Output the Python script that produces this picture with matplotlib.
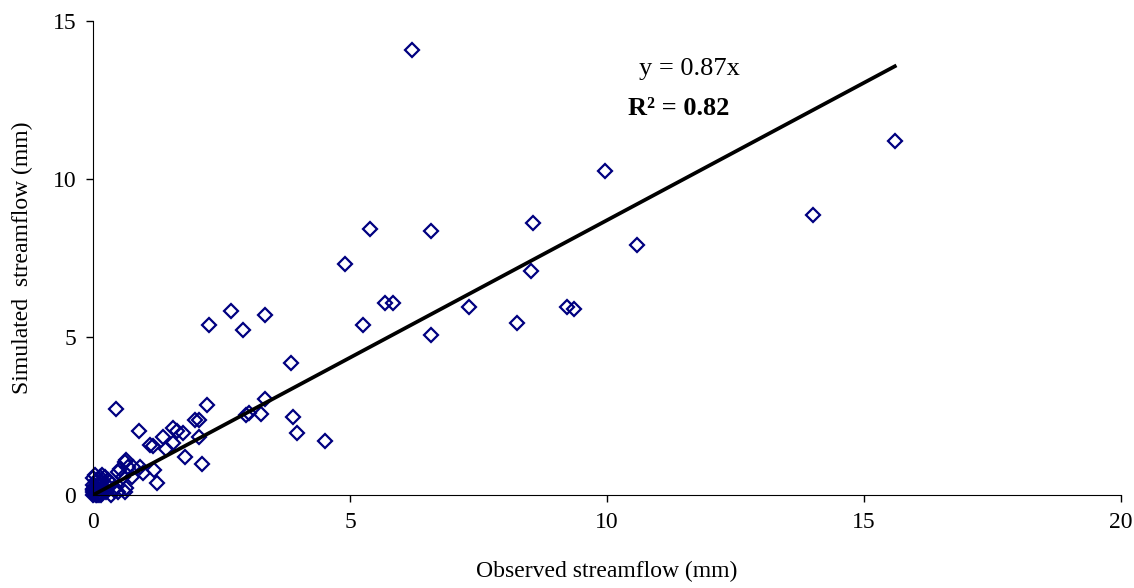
import matplotlib
matplotlib.use('Agg')
import numpy as np
import matplotlib.pyplot as plt

# observed vs simulated streamflow (mm)
observed = [6.2, 15.6, 14.0, 10.59, 9.96, 8.57, 8.52, 9.22, 9.35, 8.25,
            7.32, 6.58, 6.58, 5.84, 5.68, 5.38, 5.26, 4.91, 4.51, 3.97,
            3.9, 3.86, 3.35, 3.35, 3.27, 3.04, 2.98, 2.92, 2.68, 2.26,
            2.22, 2.13, 2.07, 2.07, 1.98, 1.79, 1.76, 1.63, 1.56, 1.56,
            1.42, 1.37, 1.25, 1.19, 1.16, 1.1, 0.98, 0.91, 0.9, 0.78,
            0.69, 0.65, 0.62, 0.62, 0.59, 0.53, 0.49, 0.49, 0.44, 0.43,
            0.4, 0.36, 0.33, 0.3, 0.23, 0.17, 0.17, 0.14, 0.1, 0.04,
            0.04, 0.0, 0.0, 0.75, 0.65,
            0.0, 0.02, 0.05, 0.0, 0.1, 0.03, 0.15, 0.08, 0.2, 0.25,
            0.12, 0.05, 0.18, 0.3, 0.02, 0.0, 0.07, 0.1, 0.22, 0.14,
            0.06, 0.12, 0.0, 0.09, 0.16]
simulated = [14.1, 11.2, 8.85, 7.9, 10.25, 8.61, 7.09, 5.96, 5.88, 5.44,
             5.95, 8.35, 5.06, 6.07, 6.07, 8.41, 5.39, 7.33, 1.7, 1.95,
             2.48, 4.17, 3.05, 5.69, 2.58, 2.6, 2.55, 5.24, 5.82, 5.37,
             2.85, 1.0, 1.85, 2.39, 2.39, 1.19, 1.95, 2.03, 2.11, 1.66,
             1.45, 1.83, 0.37, 0.79, 1.55, 1.58, 0.69, 0.9, 2.03, 0.9,
             0.88, 1.1, 1.05, 0.1, 0.58, 0.84, 0.74, 0.1, 2.71, 0.21,
             0.16, 0.0, 0.42, 0.47, 0.58, 0.63, 0.21, 0.58, 0.47, 0.26,
             0.63, 0.53, 0.32, 0.58, 0.21,
             0.0, 0.05, 0.1, 0.2, 0.15, 0.3, 0.05, 0.0, 0.25, 0.1,
             0.35, 0.45, 0.4, 0.3, 0.02, 0.1, 0.18, 0.05, 0.12, 0.28,
             0.0, 0.0, 0.15, 0.22, 0.0]

slope = 0.87
r2 = 0.82

plt.rcParams['font.family'] = ['Liberation Serif', 'DejaVu Serif']

fig = plt.figure(figsize=(11.34, 5.88), dpi=100)
ax = fig.add_axes([0.082, 0.158, 0.9065, 0.806])

ax.plot(observed, simulated, linestyle='none', marker='D', markersize=7.5,
        markerfacecolor='none', markeredgecolor='#000080', markeredgewidth=1.6,
        clip_on=False)

xfit = np.array([0, max(observed)])
ax.plot(xfit, slope * xfit, color='black', linewidth=2.7)

ax.text(11.6, 13.5, 'y = %.2fx' % slope, fontsize=19, ha='center', va='center')
ax.text(11.4, 12.25, 'R\u00b2 = %.2f' % r2, fontsize=19, ha='center',
        va='center', fontweight='bold')

ax.set_xlim(0, 20)
ax.set_ylim(0, 15)
ax.set_xticks([0, 5, 10, 15, 20])
ax.set_yticks([0, 5, 10, 15])
ax.tick_params(direction='out', length=5, width=1, labelsize=17, pad=7)
ax.spines['top'].set_visible(False)
ax.spines['right'].set_visible(False)
ax.set_xlabel('Observed streamflow (mm)', fontsize=17, labelpad=20)
ax.set_ylabel('Simulated  streamflow (mm)', fontsize=17, labelpad=14)

fig.savefig('out.png', dpi=100)
